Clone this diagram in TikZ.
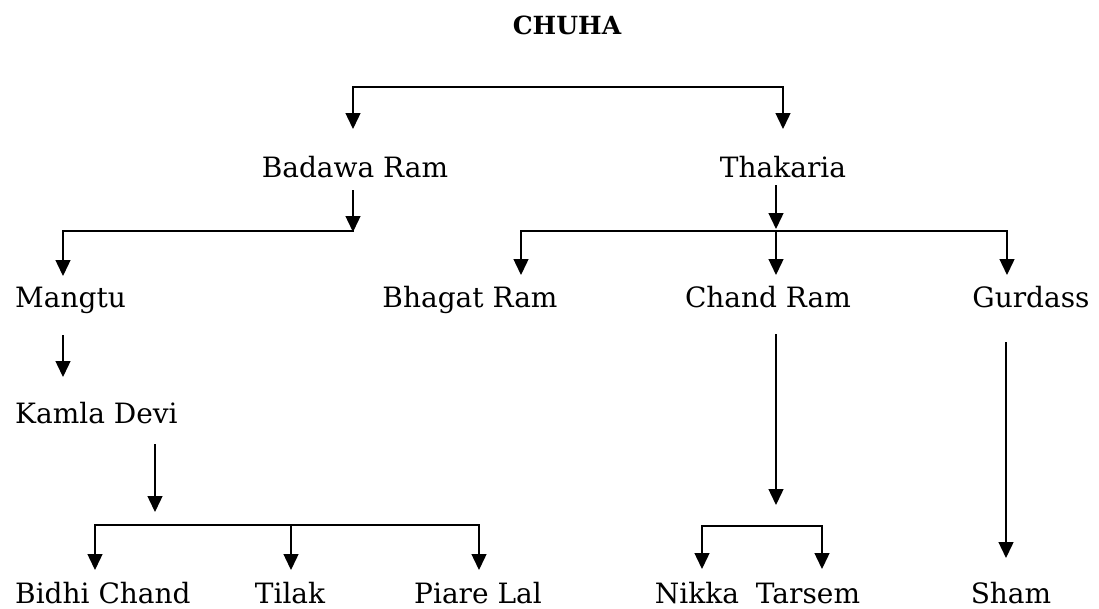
\documentclass[tikz,border=0pt]{standalone}
\usepackage{fontspec}
\setmainfont{DejaVu Serif}
\usetikzlibrary{arrows.meta}
\begin{document}
\begin{tikzpicture}[x=1pt,y=-1pt,
  lbl/.style={font=\fontsize{28}{32}\selectfont, inner sep=0pt, anchor=base},
  lblw/.style={lbl, anchor=base west},
  ttl/.style={font=\fontsize{25}{30}\selectfont\bfseries, inner sep=0pt, anchor=base},
  ln/.style={line width=1.4pt, line cap=rect},
  arr/.style={line width=1.4pt, -{Triangle[width=15pt,length=16pt]}}]
\useasboundingbox (0,0) rectangle (1099,608);
\fill[white] (0,0) rectangle (1099,608);

% nodes
\node[ttl] (chuha) at (567,34) {CHUHA};
\node[lbl] (badawa) at (355,177) {Badawa Ram};
\node[lbl] (thakaria) at (783,177) {Thakaria};
\node[lblw] (mangtu) at (15,307) {Mangtu};
\node[lbl] (bhagat) at (470,307) {Bhagat Ram};
\node[lbl] (chand) at (768,307) {Chand Ram};
\node[lbl] (gurdass) at (1031,307) {Gurdass};
\node[lblw] (kamla) at (15,423) {Kamla Devi};
\node[lblw] (bidhi) at (15,603) {Bidhi Chand};
\node[lbl] (tilak) at (290,603) {Tilak};
\node[lbl] (piare) at (478,603) {Piare Lal};
\node[lbl] (nikka) at (697,603) {Nikka};
\node[lbl] (tarsem) at (808,603) {Tarsem};
\node[lbl] (sham) at (1011,603) {Sham};

% junction coordinates
\coordinate (j0L) at (353,87);
\coordinate (j0R) at (783,87);
\coordinate (tBa) at (353,129);
\coordinate (tTh) at (783,129);

\coordinate (bS) at (353,190);
\coordinate (bE) at (353,232);
\coordinate (j1L) at (63,231);
\coordinate (j1R) at (353,231);
\coordinate (tMa) at (63,276);

\coordinate (thS) at (776,185);
\coordinate (thE) at (776,229);
\coordinate (j2L) at (521,231);
\coordinate (j2M) at (776,231);
\coordinate (j2R) at (1007,231);
\coordinate (tBh) at (521,275);
\coordinate (tCh) at (776,275);
\coordinate (tGu) at (1007,275);

\coordinate (maS) at (63,335);
\coordinate (maE) at (63,377);

\coordinate (kaS) at (155,444);
\coordinate (kaE) at (155,512);
\coordinate (j3L) at (95,525);
\coordinate (j3M) at (291,525);
\coordinate (j3R) at (479,525);
\coordinate (tBi) at (95,570);
\coordinate (tTi) at (291,570);
\coordinate (tPi) at (479,570);

\coordinate (chS) at (776,334);
\coordinate (chE) at (776,505);
\coordinate (j4L) at (702,526);
\coordinate (j4R) at (822,526);
\coordinate (tNi) at (702,569);
\coordinate (tTa) at (822,569);

\coordinate (guS) at (1006,342);
\coordinate (guE) at (1006,558);

% CHUHA -> Badawa Ram, Thakaria
\draw[ln] (j0L) -- (j0R);
\draw[arr] (j0L) -- (tBa);
\draw[arr] (j0R) -- (tTh);

% Badawa Ram -> Mangtu
\draw[arr] (bS) -- (bE);
\draw[ln] (j1L) -- (j1R);
\draw[arr] (j1L) -- (tMa);

% Thakaria -> Bhagat Ram, Chand Ram, Gurdass
\draw[arr] (thS) -- (thE);
\draw[ln] (j2L) -- (j2R);
\draw[arr] (j2L) -- (tBh);
\draw[arr] (j2M) -- (tCh);
\draw[arr] (j2R) -- (tGu);

% Mangtu -> Kamla Devi
\draw[arr] (maS) -- (maE);

% Kamla Devi -> Bidhi Chand, Tilak, Piare Lal
\draw[arr] (kaS) -- (kaE);
\draw[ln] (j3L) -- (j3R);
\draw[arr] (j3L) -- (tBi);
\draw[arr] (j3M) -- (tTi);
\draw[arr] (j3R) -- (tPi);

% Chand Ram -> Nikka, Tarsem
\draw[arr] (chS) -- (chE);
\draw[ln] (j4L) -- (j4R);
\draw[arr] (j4L) -- (tNi);
\draw[arr] (j4R) -- (tTa);

% Gurdass -> Sham
\draw[arr] (guS) -- (guE);
\end{tikzpicture}
\end{document}
